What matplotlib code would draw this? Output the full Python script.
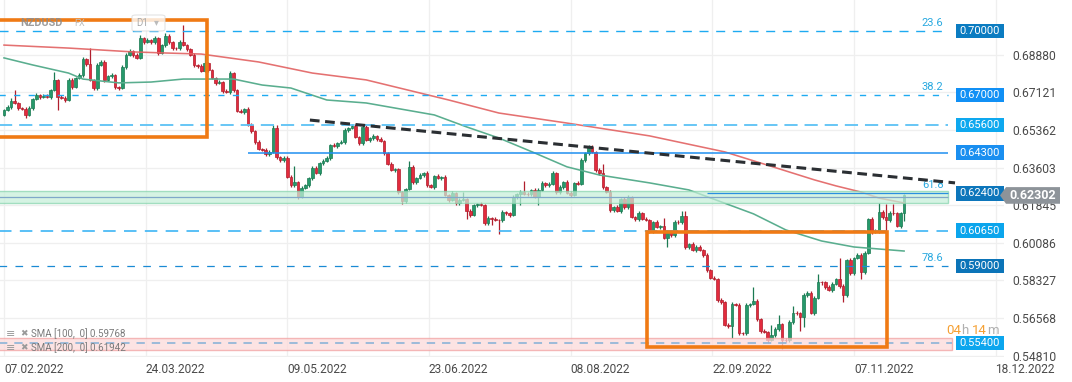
import numpy as np
import matplotlib.pyplot as plt
import matplotlib.transforms as mtransforms
from matplotlib.patches import Rectangle, Polygon, FancyBboxPatch

plt.rcParams['font.family'] = ['Roboto', 'DejaVu Sans']
plt.rcParams['lines.scale_dashes'] = False

# ---- data (NZDUSD daily, 07.02.2022 -> late Nov 2022) ----
first_open = 0.6607
closes = [
    0.6630, 0.6644, 0.6672, 0.6663, 0.6640, 0.6635, 0.6607, 0.6640, 0.6682, 0.6700,
    0.6691, 0.6696, 0.6691, 0.6724, 0.6771, 0.6691, 0.6688, 0.6677, 0.6771, 0.6738,
    0.6780, 0.6794, 0.6869, 0.6845, 0.6771, 0.6733, 0.6841, 0.6855, 0.6771, 0.6789,
    0.6794, 0.6738, 0.6733, 0.6831, 0.6888, 0.6906, 0.6888, 0.6874, 0.6967, 0.6948,
    0.6958, 0.6948, 0.6967, 0.6897, 0.6934, 0.6977, 0.6948, 0.6920, 0.6918, 0.6948,
    0.6934, 0.6916, 0.6888, 0.6841, 0.6836, 0.6813, 0.6850, 0.6817, 0.6780, 0.6757,
    0.6761, 0.6719, 0.6714, 0.6803, 0.6724, 0.6626, 0.6621, 0.6635, 0.6560, 0.6532,
    0.6480, 0.6448, 0.6445, 0.6424, 0.6434, 0.6546, 0.6410, 0.6396, 0.6406, 0.6317,
    0.6279, 0.6293, 0.6223, 0.6265, 0.6279, 0.6312, 0.6359, 0.6335, 0.6382, 0.6392,
    0.6406, 0.6466, 0.6462, 0.6476, 0.6480, 0.6537, 0.6546, 0.6555, 0.6504, 0.6476,
    0.6551, 0.6490, 0.6499, 0.6509, 0.6495, 0.6485, 0.6429, 0.6378, 0.6349, 0.6352,
    0.6246, 0.6204, 0.6260, 0.6364, 0.6293, 0.6312, 0.6326, 0.6335, 0.6279, 0.6270,
    0.6321, 0.6312, 0.6317, 0.6232, 0.6209, 0.6242, 0.6195, 0.6209, 0.6214, 0.6158,
    0.6139, 0.6186, 0.6190, 0.6186, 0.6101, 0.6125, 0.6120, 0.6115, 0.6113, 0.6153,
    0.6148, 0.6139, 0.6223, 0.6237, 0.6246, 0.6237, 0.6235, 0.6256, 0.6223, 0.6256,
    0.6289, 0.6279, 0.6284, 0.6335, 0.6246, 0.6270, 0.6293, 0.6242, 0.6232, 0.6289,
    0.6286, 0.6396, 0.6429, 0.6457, 0.6434, 0.6349, 0.6335, 0.6270, 0.6246, 0.6162,
    0.6176, 0.6158, 0.6214, 0.6176, 0.6223, 0.6129, 0.6120, 0.6148, 0.6120, 0.6115,
    0.6064, 0.6106, 0.6083, 0.6087, 0.6031, 0.6059, 0.6045, 0.6106, 0.6104, 0.6134,
    0.5989, 0.6003, 0.5975, 0.5989, 0.5975, 0.5952, 0.5881, 0.5844, 0.5839, 0.5740,
    0.5731, 0.5624, 0.5619, 0.5722, 0.5717, 0.5587, 0.5585, 0.5717, 0.5722, 0.5736,
    0.5652, 0.5596, 0.5591, 0.5554, 0.5577, 0.5605, 0.5629, 0.5554, 0.5552, 0.5638,
    0.5680, 0.5678, 0.5661, 0.5764, 0.5774, 0.5680, 0.5750, 0.5825, 0.5823, 0.5802,
    0.5788, 0.5816, 0.5839, 0.5806, 0.5764, 0.5928, 0.5867, 0.5938, 0.5952, 0.5872,
    0.5961, 0.6120, 0.6059, 0.6064, 0.6153, 0.6129, 0.6115, 0.6148, 0.6146, 0.6087,
    0.6148, 0.6230,
]
# wick lengths beyond the body, in pips
up_wick = [
    5, 8, 14, 51, 6, 4, 7, 9, 6, 10,   5, 7, 8, 6, 37, 5, 9, 6, 8, 7,
    6, 10, 8, 5, 75, 6, 9, 7, 8, 5,    7, 6, 5, 9, 8, 10, 6, 7, 12, 6,
    8, 5, 9, 6, 7, 14, 8, 6, 5, 10,    80, 7, 6, 9, 5, 8, 37, 6, 7, 5,
    9, 6, 8, 12, 7, 5, 9, 6, 8, 7,     6, 9, 5, 7, 8, 14, 14, 6, 9, 7,
    8, 75, 6, 10, 7, 5, 9, 8, 6, 7,    9, 6, 8, 5, 10, 7, 6, 9, 8, 6,
    7, 9, 5, 8, 6, 10, 7, 5, 9, 6,     8, 6, 7, 28, 9, 5, 8, 6, 10, 7,
    6, 9, 5, 8, 7, 10, 6, 8, 30, 5,    9, 6, 7, 8, 5, 10, 6, 9, 7, 8,
    6, 7, 9, 5, 8, 51, 7, 6, 9, 8,     10, 6, 7, 9, 5, 8, 6, 10, 7, 6,
    8, 9, 6, 10, 7, 5, 8, 42, 6, 9,    7, 8, 6, 9, 10, 5, 7, 8, 6, 9,
    7, 6, 8, 5, 37, 9, 6, 8, 7, 23,    23, 6, 9, 7, 8, 5, 10, 6, 8, 7,
    9, 6, 8, 10, 7, 9, 6, 8, 7, 65,    8, 6, 9, 7, 47, 8, 42, 6, 9, 7,
    33, 8, 6, 10, 7, 9, 8, 37, 6, 8,   7, 9, 6, 98, 8, 7, 10, 6, 9, 8,
    7, 6, 9, 8, 42, 7, 61, 8, 42, 9,   7, 8,
]
dn_wick = [
    6, 5, 8, 7, 9, 6, 14, 5, 8, 7,     9, 6, 7, 8, 5, 61, 7, 9, 6, 8,
    7, 5, 9, 8, 6, 10, 7, 5, 8, 6,     9, 9, 7, 6, 8, 5, 9, 7, 6, 8,
    5, 9, 7, 10, 6, 8, 7, 9, 5, 8,     6, 9, 7, 8, 10, 6, 7, 9, 5, 8,
    7, 10, 6, 8, 9, 7, 5, 8, 6, 9,     8, 6, 9, 7, 10, 5, 8, 7, 9, 6,
    10, 8, 9, 7, 6, 9, 8, 5, 7, 10,    6, 8, 7, 9, 5, 8, 10, 6, 7, 9,
    8, 6, 9, 7, 10, 5, 8, 7, 6, 9,     10, 12, 8, 6, 9, 7, 5, 8, 10, 6,
    9, 7, 8, 6, 10, 5, 9, 8, 7, 37,    8, 6, 9, 7, 10, 8, 28, 6, 61, 7,
    9, 8, 6, 10, 51, 7, 9, 8, 6, 37,   7, 9, 8, 6, 10, 7, 9, 5, 8, 6,
    9, 7, 10, 8, 6, 9, 7, 8, 6, 10,    8, 6, 9, 7, 10, 5, 8, 9, 7, 6,
    10, 8, 7, 9, 6, 42, 8, 7, 9, 6,    8, 9, 7, 10, 6, 8, 9, 7, 6, 10,
    8, 7, 9, 56, 6, 10, 8, 9, 7, 6,    9, 8, 7, 14, 6, 9, 10, 42, 8, 7,
    9, 6, 65, 47, 8, 7, 9, 6, 10, 8,   7, 9, 6, 8, 33, 7, 10, 8, 6, 33,
    9, 7, 8, 6, 10, 9, 51, 7, 8, 6,    9, 37,
]

# moving averages, sampled along the curves
sma100_bar = [0, 8, 18, 22, 32, 41, 50, 64, 72, 80, 90, 101, 120, 129, 138, 148,
              157, 166, 180, 191, 200, 209, 218, 228, 237, 251]
sma100_val = [0.6874, 0.6841, 0.6803, 0.6775, 0.6757, 0.6761, 0.6775, 0.6775, 0.6747,
              0.6733, 0.6677, 0.6663, 0.6607, 0.6551, 0.6499, 0.6429, 0.6364, 0.6326,
              0.6289, 0.6256, 0.6200, 0.6144, 0.6069, 0.6017, 0.5989, 0.5970]
sma200_bar = [0, 18, 36, 45, 55, 71, 86, 101, 124, 138, 157, 180, 201, 211, 226, 232,
              239, 244, 251]
sma200_val = [0.6934, 0.6920, 0.6902, 0.6897, 0.6892, 0.6855, 0.6803, 0.6771, 0.6677,
              0.6616, 0.6569, 0.6509, 0.6434, 0.6382, 0.6303, 0.6275, 0.6246, 0.6218,
              0.6195]

date_labels = ['07.02.2022', '24.03.2022', '09.05.2022', '23.06.2022',
               '08.08.2022', '22.09.2022', '07.11.2022', '18.12.2022']
date_bars = [0, 39.5, 79, 118.5, 158, 197.5, 237, 276.5]
price_ticks = [0.68880, 0.67121, 0.65362, 0.63603, 0.61845,
               0.60086, 0.58327, 0.56568, 0.54810]

level_prices = [0.70000, 0.67000, 0.65600, 0.64300, 0.62400, 0.60650, 0.59000, 0.55400]
level_box_colors = ['#0b7cc1', '#1190f5', '#0ea8ef', '#1a8ff0',
                    '#0d76bb', '#0ba5ec', '#0b74b8', '#0ca6ee']
fib_labels = ['23.6', '38.2', '61.8', '78.6']
fib_prices = [0.7000, 0.6700, 0.6222, 0.5900]
support_zone = (0.6195, 0.6251)
low_zone = (0.5507, 0.5563)
trend_bars = [85.3, 265.2]
trend_prices = [0.6583, 0.6289]
box1 = (-3, 56.6, 0.6504, 0.7051)      # bar0, bar1, low, high
box2 = (179.3, 246.2, 0.5521, 0.6059)
last_price = 0.62302
sma100_last, sma200_last = 0.59768, 0.61942
countdown = [('04', '#f5a033'), ('h', '#b0b0b0'), ('14', '#f5a033'), ('m', '#b0b0b0')]

# ---- figure ----
W, H = 1072, 382
fig = plt.figure(figsize=(W / 100, H / 100), dpi=100)
ax = fig.add_axes([0, 25 / H, 1004 / W, 357 / H])
ax.set_xlim(-1.115, 278.86)
ax.set_ylim(0.5474, 0.7145)
for s in ax.spines.values():
    s.set_visible(False)

ax.set_yticks(price_ticks)
ax.set_yticklabels([f'{p:.5f}' for p in price_ticks])
ax.yaxis.tick_right()
ax.tick_params(axis='y', length=0, pad=6, labelsize=8.7, labelcolor='#4a4a4a')
ax.set_xticks(date_bars)
ax.set_xticklabels(date_labels)
ax.tick_params(axis='x', length=0, pad=4, labelsize=8.6, labelcolor='#4a4a4a')
for lbl in ax.get_xticklabels():
    lbl.set_ha('left')
ax.grid(True, color='#efefef', lw=0.9, zorder=0)
ax.set_axisbelow(True)

# candles
c = np.array(closes)
o = np.concatenate([[first_open], c[:-1]])
idx = np.arange(len(c))
hi = np.maximum(o, c) + np.array(up_wick) * 1e-4
lo = np.minimum(o, c) - np.array(dn_wick) * 1e-4
up = c >= o
body = np.maximum(np.abs(c - o), 0.00025)
for mask, fc, ec in [(up, '#26996b', '#1b7a52'), (~up, '#e32b3d', '#b01e2d')]:
    ax.vlines(idx[mask], lo[mask], hi[mask], colors=ec, lw=0.9, zorder=2)
    ax.bar(idx[mask], body[mask], bottom=np.minimum(o, c)[mask], width=0.74,
           color=fc, edgecolor=ec, lw=0.5, zorder=2.1)

# moving averages
ax.plot(sma100_bar, sma100_val, color='#5aae8f', lw=1.15, zorder=2.5)
ax.plot(sma200_bar, sma200_val, color='#e26262', lw=1.15, alpha=0.9, zorder=2.5)

line_end = 263.3
# zones
ax.add_patch(Rectangle((-3, support_zone[0]), line_end + 3, support_zone[1] - support_zone[0],
                       fc='#c6efd9', ec='#86d4ad', lw=1, alpha=0.72, zorder=3))
ax.add_patch(Rectangle((-3, low_zone[0]), line_end + 4, low_zone[1] - low_zone[0],
                       fc='#fcdada', ec='#f2a2a2', lw=1, alpha=0.75, zorder=3))

# horizontal levels
ax.hlines(level_prices[0], -3, line_end, colors='#1eaaf1', lw=1.0, linestyles=(0, (6.5, 5.5)), zorder=4)
ax.hlines(level_prices[1], -3, line_end, colors='#1eaaf1', lw=1.0, linestyles=(0, (4.5, 6)), zorder=4)
ax.hlines(level_prices[2], -3, line_end, colors='#5cc2f5', lw=1.3, linestyles=(0, (9.5, 5)), zorder=4)
ax.hlines(level_prices[3], 68, line_end, colors='#1f8ff0', lw=1.1, zorder=4)
ax.hlines(level_prices[4], 196, line_end, colors='#2a8fe0', lw=0.9, zorder=4)
ax.hlines(fib_prices[2], -3, line_end, colors='#7fa8c9', lw=0.9, zorder=4)
ax.hlines(level_prices[5], -3, line_end, colors='#3db5f5', lw=1.2, linestyles=(0, (9, 6)), zorder=4)
ax.hlines(level_prices[6], -3, line_end, colors='#1a8ad4', lw=0.9, linestyles=(0, (5.5, 6)), zorder=4)
ax.hlines(level_prices[7], -3, line_end + 1, colors='#8cb4d8', lw=1.2, linestyles=(0, (6, 5)), zorder=4)

# fib labels
for lab, p in zip(fib_labels, fib_prices):
    dy = 5 if lab == '61.8' else 2
    ax.annotate(lab, (262.0, p), xytext=(0, dy), textcoords='offset points',
                ha='right', va='bottom', fontsize=8, color='#29a9e0', zorder=5)

# trend line
ax.plot(trend_bars, trend_prices, color='#2b2f33', lw=2.2, linestyle=(0, (7, 4)), zorder=5)

# orange boxes
for b0, b1, l, h in [box1, box2]:
    ax.add_patch(Rectangle((b0, l), b1 - b0, h - l, fill=False, ec='#f07a14', lw=2.6, zorder=6))

# level price tags
blend = mtransforms.blended_transform_factory(ax.transAxes, ax.transData)
box_h = 0.0068
for p, col in zip(level_prices, level_box_colors):
    ax.add_patch(Rectangle((956 / 1004, p - box_h / 2), 48 / 1004, box_h, transform=blend,
                           fc=col, ec='none', zorder=7, clip_on=False))
    ax.text(980 / 1004, p, f'{p:.5f}', transform=blend, ha='center', va='center',
            fontsize=8, color='white', zorder=8)

# last price tag
tag_h = 0.0078
ax.add_patch(Polygon([(1000 / 1004, last_price), (1006 / 1004, last_price + tag_h / 2),
                      (1060 / 1004, last_price + tag_h / 2), (1060 / 1004, last_price - tag_h / 2),
                      (1006 / 1004, last_price - tag_h / 2)], closed=True, transform=blend,
                     fc='#8d9399', ec='none', zorder=9, clip_on=False))
ax.text(1033 / 1004, last_price, f'{last_price:.5f}', transform=blend, ha='center', va='center',
        fontsize=9, color='white', fontweight='bold', zorder=10, clip_on=False)


def fxy(px, py):
    return px / W, 1 - py / H


# header
fig.text(*fxy(20, 23), 'NZDUSD', fontsize=7.8, fontweight='bold', color='#8c8c8c',
         va='center', alpha=0.85, zorder=20)
fig.text(*fxy(74, 24), 'FX', fontsize=6.5, color='#bdbdbd', va='center', zorder=20)
fig.patches.append(FancyBboxPatch(fxy(132, 31), 33 / W, 16 / H, boxstyle='round,pad=0,rounding_size=0.004',
                                  transform=fig.transFigure, fc='white', ec='#dddddd', lw=0.8,
                                  alpha=0.8, zorder=19))
fig.text(*fxy(136, 23), 'D1', fontsize=7, color='#aaaaaa', va='center', zorder=20)
fig.text(*fxy(154, 22), '▾', fontsize=7, color='#bbbbbb', va='center', zorder=20)

# indicator legend
for py, lab in [(334, f'SMA [100,  0] {sma100_last:.5f}'), (348, f'SMA [200,  0] {sma200_last:.5f}')]:
    fig.text(*fxy(6, py), '≡', fontsize=8, color='#9a9a9a', va='center', zorder=1)
    fig.text(*fxy(20, py), '✖', fontsize=6.5, color='#9a9a9a', va='center', zorder=1)
    fig.text(*fxy(31, py), lab, fontsize=7, color='#7a7a7a', va='center', zorder=1)

# candle countdown, pieces placed one after another
renderer = fig.canvas.get_renderer()
x0 = 946
gaps = [0, 4, 0, 0]
for (s, col), g in zip(countdown, gaps):
    t = fig.text(*fxy(x0, 330), s, fontsize=9.5, color=col, va='center', zorder=20)
    x0 += t.get_window_extent(renderer).width + g

fig.savefig('out.png', dpi=100)
